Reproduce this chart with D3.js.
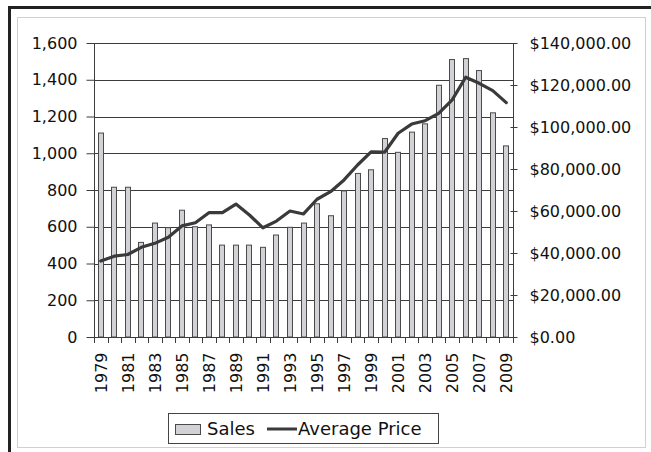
<!DOCTYPE html>
<html>
<head>
<meta charset="utf-8">
<script src="https://cdn.jsdelivr.net/npm/d3@7"></script>
<style>
  body { margin: 0; background: #fff; }
  svg { display: block; font-family: "DejaVu Sans", sans-serif; }
</style>
</head>
<body>
<div id="container"></div>
<script>
// data
const years = [1979, 1980, 1981, 1982, 1983, 1984, 1985, 1986, 1987, 1988, 1989, 1990, 1991, 1992, 1993, 1994,
               1995, 1996, 1997, 1998, 1999, 2000, 2001, 2002, 2003, 2004, 2005, 2006, 2007, 2008, 2009];
const sales = [1110, 815, 815, 515, 620, 595, 690, 600, 610, 500, 500, 500, 488, 555, 597, 620,
               725, 660, 795, 890, 910, 1080, 1005, 1115, 1160, 1370, 1510, 1515, 1450, 1220, 1040];
const avgPrice = [36200, 38500, 39300, 42700, 44600, 47500, 52900, 54400, 59200, 59200, 63300, 58100, 52000, 55200, 60000, 58600,
                  65600, 69200, 74800, 81900, 88200, 88000, 97000, 101400, 103000, 106500, 112900, 123700, 120800, 117300, 111600];
const salesTicks = [0, 200, 400, 600, 800, 1000, 1200, 1400, 1600];
const priceTicks = [0, 20000, 40000, 60000, 80000, 100000, 120000, 140000];
const yearLabels = years.filter((d, i) => i % 2 == 0);

const w = 651;
const h = 452;
const plotL = 94, plotR = 513, plotT = 43, plotB = 337;

const svg = d3.select("#container").append("svg")
    .attr("width", w)
    .attr("height", h);

// frame
svg.append("rect")
    .attr("x", 17.5).attr("y", 17.5)
    .attr("width", 628).attr("height", 430)
    .attr("fill", "none").attr("stroke", "#d0d0d0");
svg.append("line")
    .attr("x1", 8).attr("x2", w).attr("y1", 7.5).attr("y2", 7.5)
    .attr("stroke", "#222").attr("stroke-width", 3);
svg.append("line")
    .attr("x1", 9.5).attr("x2", 9.5).attr("y1", 6).attr("y2", h)
    .attr("stroke", "#222").attr("stroke-width", 3);

const x = d3.scaleBand().domain(years).range([plotL, plotR]);
const ySales = d3.scaleLinear().domain([0, 1600]).range([plotB, plotT]);
const yPrice = d3.scaleLinear().domain([0, 140000]).range([plotB, plotT]);

// gridlines
svg.append("g")
    .selectAll("line")
    .data(salesTicks)
    .enter().append("line")
    .attr("x1", plotL).attr("x2", plotR)
    .attr("y1", d => Math.round(ySales(d)) + 0.5)
    .attr("y2", d => Math.round(ySales(d)) + 0.5)
    .attr("stroke", "#3c3c3c");

// bars
const bw = 6;
svg.append("g")
    .selectAll("rect")
    .data(years)
    .enter().append("rect")
    .attr("x", (d) => Math.round(x(d) + x.bandwidth() / 2 - bw / 2) + 0.5)
    .attr("y", (d, i) => ySales(sales[i]))
    .attr("width", bw - 1)
    .attr("height", (d, i) => plotB - ySales(sales[i]))
    .attr("fill", "#d2d2d6")
    .attr("stroke", "#4a4a4a")
    .attr("stroke-width", 1);

// price line
const line = d3.line()
    .x((d, i) => x(years[i]) + x.bandwidth() / 2)
    .y((d) => yPrice(d));
svg.append("path")
    .datum(avgPrice)
    .attr("d", line)
    .attr("fill", "none")
    .attr("stroke", "#3a3a3a")
    .attr("stroke-width", 3.2)
    .attr("stroke-linejoin", "round")
    .attr("stroke-linecap", "round");

// left axis
const yAxisL = svg.append("g")
    .attr("transform", `translate(${plotL + 0.5},0)`)
    .call(d3.axisLeft(ySales).tickValues(salesTicks).tickSize(8).tickPadding(9).tickFormat(d3.format(",")));

// right axis
const yAxisR = svg.append("g")
    .attr("transform", `translate(${plotR + 0.5},0)`)
    .call(d3.axisRight(yPrice).tickValues(priceTicks).tickSize(4).tickPadding(12).tickFormat(d => "$" + d3.format(",.2f")(d)));
yAxisR.selectAll(".tick line").attr("x1", -3);

// x axis
const xAxis = svg.append("g")
    .attr("transform", `translate(0,${plotB + 0.5})`)
    .call(d3.axisBottom(x).tickValues(yearLabels).tickSize(0).tickPadding(0));
xAxis.selectAll("text")
    .attr("transform", "rotate(-90)")
    .attr("text-anchor", "end")
    .attr("x", -15)
    .attr("y", 0)
    .attr("dy", "0.36em");
// category boundary ticks
svg.append("g")
    .selectAll("line")
    .data(years.concat(["end"]))
    .enter().append("line")
    .attr("x1", (d, i) => Math.round(plotL + i * x.step()) + 0.5)
    .attr("x2", (d, i) => Math.round(plotL + i * x.step()) + 0.5)
    .attr("y1", plotB)
    .attr("y2", plotB + 6)
    .attr("stroke", "#3c3c3c");

[yAxisL, yAxisR, xAxis].forEach(g => {
    g.selectAll(".domain").attr("stroke", "#3c3c3c");
    g.selectAll(".tick line").attr("stroke", "#3c3c3c");
    g.selectAll("text").attr("fill", "#111").style("font-size", "16px").style("font-family", "DejaVu Sans");
});
xAxis.select(".domain").attr("d", `M${plotL},0H${plotR}`);
yAxisL.select(".domain").attr("d", `M0,${plotB}V${plotT}`);
yAxisR.select(".domain").attr("d", `M0,${plotB}V${plotT}`);

// legend
const legend = svg.append("g");
legend.append("rect")
    .attr("x", 168.5).attr("y", 413.5)
    .attr("width", 270).attr("height", 30)
    .attr("fill", "#fff").attr("stroke", "#444");
legend.append("rect")
    .attr("x", 175.5).attr("y", 424.5)
    .attr("width", 25).attr("height", 10)
    .attr("fill", "#d2d2d6").attr("stroke", "#4a4a4a");
legend.append("text")
    .attr("x", 207).attr("y", 435)
    .attr("fill", "#111")
    .style("font-size", "18px")
    .text("Sales");
legend.append("line")
    .attr("x1", 267).attr("x2", 297)
    .attr("y1", 429).attr("y2", 429)
    .attr("stroke", "#3a3a3a").attr("stroke-width", 3);
legend.append("text")
    .attr("x", 298).attr("y", 435)
    .attr("fill", "#111")
    .style("font-size", "18px")
    .text("Average Price");
</script>
</body>
</html>
